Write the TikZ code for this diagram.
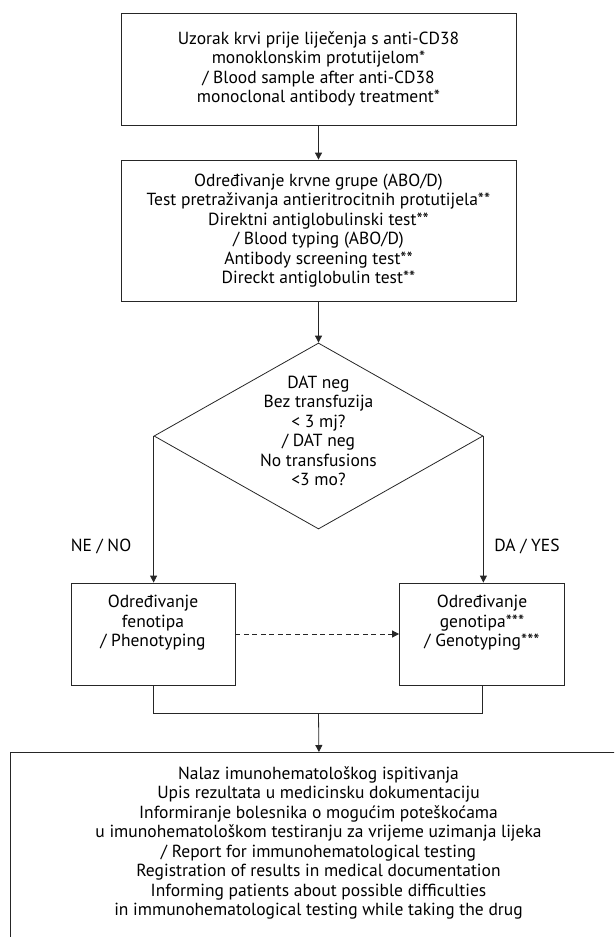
\documentclass[tikz,border=0pt]{standalone}
\usepackage{fontspec}
\setmainfont{PT Sans}
\usetikzlibrary{
  shapes.geometric,
  arrows.meta,
  positioning, calc
}
\tikzset{
  boxnode/.style={rectangle,draw=black!85,line width=0.8pt,fill=white,align=center,
    font=\fontsize{17.5}{19.5}\selectfont},
  decnode/.style={diamond,draw=black!85,line width=0.8pt,inner sep=0pt,
    minimum width=329pt,minimum height=186pt},
  txtnode/.style={align=center,inner sep=0pt,font=\fontsize{17.5}{19.5}\selectfont},
  arr/.style={-{Triangle[length=7pt,width=7pt]},line width=0.8pt,draw=black!85}
}

\begin{document}
\begin{tikzpicture}[x=1pt,y=-1pt,
  dashedarr/.style={arr,dash pattern=on 5pt off 3.5pt},
  lnk/.style={line width=0.8pt,draw=black!85},
  lbl/.style={font=\fontsize{17.5}{19.5}\selectfont,inner sep=1pt}
]
\useasboundingbox (0,0) rectangle (614,937);
\clip (0,0) rectangle (614,937);

\node[boxnode,minimum width=395pt,minimum height=112pt] (sample) at (318.5,69) {
  Uzorak krvi prije liječenja s anti-CD38\\
  monoklonskim protutijelom*\\
  / Blood sample after anti-CD38\\
  monoclonal antibody treatment*
};
\node[boxnode,minimum width=395pt,minimum height=141pt] (typing) at (318.5,230.5) {
  Određivanje krvne grupe (ABO/D)\\
  Test pretraživanja antieritrocitnih protutijela**\\
  Direktni antiglobulinski test**\\
  / Blood typing (ABO/D)\\
  Antibody screening test**\\
  Direckt antiglobulin test**
};
\node[decnode] (dec) at (318.5,436) {};
\node[txtnode] (dectxt) at (318.5,431) {
  DAT neg\\
  Bez transfuzija\\
  < 3 mj?\\
  / DAT neg\\
  No transfusions\\
  <3 mo?
};
\node[boxnode,minimum width=164pt,minimum height=102pt] (pheno) at (153,634) {};
\node[txtnode] (phenotxt) at (153,623) {
  Određivanje\\
  fenotipa\\
  / Phenotyping
};
\node[boxnode,minimum width=165pt,minimum height=102pt] (geno) at (482,634) {};
\node[txtnode] (genotxt) at (482,623) {
  Određivanje\\
  genotipa***\\
  / Genotyping***
};
\node[boxnode,anchor=north west,minimum width=617pt,minimum height=200pt] (report) at (10,752) {};
\node[txtnode] (reporttxt) at (318.5,843) {
  Nalaz imunohematološkog ispitivanja\\
  Upis rezultata u medicinsku dokumentaciju\\
  Informiranje bolesnika o mogućim poteškoćama\\
  u imunohematološkom testiranju za vrijeme uzimanja lijeka\\
  / Report for immunohematological testing\\
  Registration of results in medical documentation\\
  Informing patients about possible difficulties\\
  in immunohematological testing while taking the drug
};
\coordinate (merge) at (318.5,713);

% Flow
\draw[arr] (sample.south) -- (typing.north);
\draw[arr] (typing.south) -- (dec.north);
\draw[arr] (dec.west) -- (dec.west |- pheno.north);
\draw[arr] (dec.east) -- (dec.east |- geno.north);
\draw[dashedarr] (pheno.east) -- (geno.west);
\draw[lnk] (pheno.south) |- (merge);
\draw[lnk] (geno.south) |- (merge);
\draw[arr] (merge) -- (report.north);

% Branch labels
\node[lbl] (nolbl) at (101,546) {NE / NO};
\node[lbl] (yeslbl) at (527,546) {DA / YES};

\end{tikzpicture}
\end{document}
